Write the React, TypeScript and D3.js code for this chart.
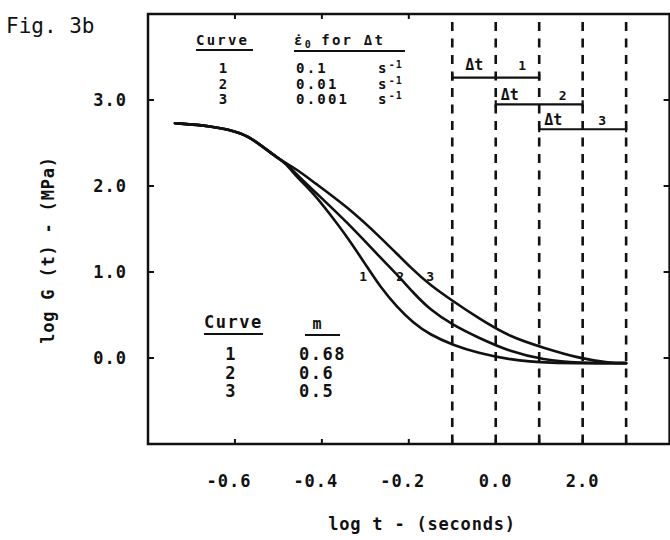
import React, { useEffect, useRef } from 'react';
import * as d3 from 'd3';

// Relaxation modulus curves (log t in s, log G in MPa)
const sharedT = [-0.738, -0.657, -0.581, -0.542, -0.503, -0.484];
const sharedG = [2.73, 2.7, 2.62, 2.48, 2.33, 2.27];

const curve1T = [-0.457, -0.42, -0.381, -0.342, -0.296, -0.266, -0.227, -0.19, -0.151, -0.098, -0.042, 0.034, 0.11, 0.3];
const curve1G = [2.1, 1.92, 1.67, 1.41, 1.06, 0.83, 0.59, 0.41, 0.27, 0.15, 0.06, -0.02, -0.06, -0.06];

const curve2T = [-0.457, -0.42, -0.342, -0.266, -0.227, -0.19, -0.151, -0.098, -0.042, 0.034, 0.11, 0.188, 0.3];
const curve2G = [2.13, 1.95, 1.58, 1.17, 0.97, 0.76, 0.56, 0.38, 0.24, 0.07, -0.02, -0.06, -0.06];

const curve3T = [-0.457, -0.42, -0.342, -0.266, -0.19, -0.151, -0.098, -0.042, 0.034, 0.11, 0.188, 0.264, 0.3];
const curve3G = [2.19, 2.05, 1.76, 1.41, 1.02, 0.85, 0.66, 0.47, 0.24, 0.12, 0.0, -0.06, -0.06];

const curveIds = ['1', '2', '3'];
const curveLabelT = [-0.305, -0.22, -0.151];
const curveLabelG = [0.9, 0.9, 0.9];

const strainRates = ['0.1', '0.01', '0.001'];
const mValues = ['0.68', '0.6', '0.5'];

// Δt windows
const windowStart = [-0.1, 0, 0.1];
const windowEnd = [0.1, 0.2, 0.3];
const windowLevel = [3.26, 2.95, 2.66];

const dashedT = [-0.1, 0, 0.1, 0.2, 0.3];
const xTicks = [-0.6, -0.4, -0.2, -0.1, 0, 0.1, 0.2, 0.3];
const xTickLabels = ['-0.6', '-0.4', '-0.2', '', '0.0', '', '2.0', ''];
const xTopTicks = [-0.6, -0.4, -0.2];
const yTicks = [0, 1, 2, 3];
const yTickLabels = ['0.0', '1.0', '2.0', '3.0'];

const MONO = "'DejaVu Sans Mono', 'Liberation Mono', monospace";

const zip = (t: number[], g: number[]) => t.map((v, i) => [v, g[i]] as [number, number]);

const App: React.FC = () => {
  const svgRef = useRef<SVGSVGElement>(null);
  const width = 670;
  const height = 540;

  useEffect(() => {
    if (!svgRef.current) return;
    const svg = d3.select(svgRef.current);
    svg.selectAll('*').remove();

    const x = d3.scaleLinear().domain([-0.8, 0.4]).range([148, 669.6]);
    const y = d3.scaleLinear().domain([-1, 4]).range([444, 14]);
    const [x0, x1] = x.range();
    const [y0, y1] = y.range();

    const ink = '#111';

    // Frame
    svg.append('rect')
      .attr('x', x0).attr('y', y1)
      .attr('width', x1 - x0).attr('height', y0 - y1)
      .attr('fill', 'none').attr('stroke', ink).attr('stroke-width', 2.5);

    // Dashed reference lines
    svg.append('g')
      .selectAll('line')
      .data(dashedT)
      .join('line')
      .attr('x1', d => x(d)).attr('x2', d => x(d))
      .attr('y1', y1 + 8).attr('y2', y0)
      .attr('stroke', ink).attr('stroke-width', 2.6)
      .attr('stroke-dasharray', '9 7.5');

    // Ticks (all inward)
    const ticks = svg.append('g').attr('stroke', ink).attr('stroke-width', 2);
    ticks.selectAll('line.b').data(xTicks).join('line').attr('class', 'b')
      .attr('x1', d => x(d)).attr('x2', d => x(d)).attr('y1', y0).attr('y2', y0 - 5);
    ticks.selectAll('line.t').data(xTopTicks).join('line').attr('class', 't')
      .attr('x1', d => x(d)).attr('x2', d => x(d)).attr('y1', y1).attr('y2', y1 + 5);
    ticks.selectAll('line.l').data(yTicks).join('line').attr('class', 'l')
      .attr('x1', x0).attr('x2', x0 + 6).attr('y1', d => y(d)).attr('y2', d => y(d));
    ticks.selectAll('line.r').data(yTicks).join('line').attr('class', 'r')
      .attr('x1', x1).attr('x2', x1 - 6).attr('y1', d => y(d)).attr('y2', d => y(d));

    // Tick labels
    svg.append('g')
      .selectAll('text')
      .data(xTicks.map((t, i) => ({ t, label: xTickLabels[i] })).filter(d => d.label))
      .join('text')
      .attr('x', d => x(d.t) + (d.label.startsWith('-') ? -6 : 0))
      .attr('y', 487)
      .attr('text-anchor', 'middle')
      .attr('font-family', MONO).attr('font-weight', 'bold')
      .attr('font-size', 17).attr('letter-spacing', 1)
      .attr('fill', ink)
      .text(d => d.label);

    svg.append('g')
      .selectAll('text')
      .data(yTicks.map((v, i) => ({ v, label: yTickLabels[i] })))
      .join('text')
      .attr('x', 127)
      .attr('y', d => y(d.v))
      .attr('dy', '0.36em')
      .attr('text-anchor', 'end')
      .attr('font-family', MONO).attr('font-weight', 'bold')
      .attr('font-size', 17).attr('letter-spacing', 1)
      .attr('fill', ink)
      .text(d => d.label);

    // Axis titles
    svg.append('text')
      .attr('x', 422).attr('y', 530)
      .attr('text-anchor', 'middle')
      .attr('font-family', MONO).attr('font-size', 17).attr('letter-spacing', 0.8)
      .attr('font-weight', 'bold')
      .attr('fill', ink)
      .text('log t - (seconds)');

    svg.append('text')
      .attr('transform', 'translate(54,250) rotate(-90)')
      .attr('text-anchor', 'middle')
      .attr('font-family', MONO).attr('font-size', 17).attr('letter-spacing', 0.8)
      .attr('font-weight', 'bold')
      .attr('fill', ink)
      .text('log G (t) - (MPa)');

    svg.append('text')
      .attr('x', 6).attr('y', 33)
      .attr('font-family', MONO).attr('font-size', 21)
      .attr('fill', ink)
      .text('Fig. 3b');

    // Curves
    const line = d3.line<[number, number]>()
      .x(d => x(d[0]))
      .y(d => y(d[1]))
      .curve(d3.curveBasis);

    const shared = zip(sharedT, sharedG);
    const series = [
      shared.concat(zip(curve1T, curve1G)),
      shared.concat(zip(curve2T, curve2G)),
      shared.concat(zip(curve3T, curve3G)),
    ];

    svg.append('g')
      .selectAll('path')
      .data(series)
      .join('path')
      .attr('d', line)
      .attr('fill', 'none')
      .attr('stroke', ink)
      .attr('stroke-width', 2.6)
      .attr('stroke-linecap', 'round');

    svg.append('g')
      .selectAll('text')
      .data(curveIds)
      .join('text')
      .attr('x', (d, i) => x(curveLabelT[i]))
      .attr('y', (d, i) => y(curveLabelG[i]))
      .attr('text-anchor', 'middle')
      .attr('font-family', MONO).attr('font-weight', 'bold').attr('font-size', 13)
      .attr('fill', ink)
      .text(d => d);

    // Δt windows
    const win = svg.append('g')
      .selectAll('g')
      .data(curveIds)
      .join('g');

    win.append('line')
      .attr('x1', (d, i) => x(windowStart[i])).attr('x2', (d, i) => x(windowEnd[i]))
      .attr('y1', (d, i) => y(windowLevel[i])).attr('y2', (d, i) => y(windowLevel[i]))
      .attr('stroke', ink).attr('stroke-width', 2.2);
    [windowStart, windowEnd].forEach(edge => {
      win.append('line')
        .attr('x1', (d, i) => x(edge[i])).attr('x2', (d, i) => x(edge[i]))
        .attr('y1', (d, i) => y(windowLevel[i]) - 4).attr('y2', (d, i) => y(windowLevel[i]) + 3)
        .attr('stroke', ink).attr('stroke-width', 2.2);
    });
    win.append('text')
      .attr('x', (d, i) => x(windowStart[i]) + (i === 0 ? 13 : 5))
      .attr('y', (d, i) => y(windowLevel[i]) - (i === 0 ? 8 : 4))
      .attr('font-family', MONO).attr('font-weight', 'bold').attr('font-size', 15)
      .attr('fill', ink)
      .text('Δt');
    win.append('text')
      .attr('x', (d, i) => x(windowStart[i]) + [70, 67, 63][i])
      .attr('y', (d, i) => y(windowLevel[i]) - (i === 0 ? 8 : 4))
      .attr('text-anchor', 'middle')
      .attr('font-family', MONO).attr('font-weight', 'bold').attr('font-size', 13)
      .attr('fill', ink)
      .text(d => d);

    // Upper legend: strain rate
    const legTop = svg.append('g')
      .attr('font-family', MONO).attr('font-weight', 'bold')
      .attr('font-size', 14).attr('letter-spacing', 2.2).attr('fill', ink);
    legTop.append('text').attr('x', 196).attr('y', 45).text('Curve');
    const hdr = legTop.append('text').attr('x', 294).attr('y', 45);
    hdr.append('tspan').text('ε\u0307');
    hdr.append('tspan').attr('dy', 3).attr('font-size', 10).attr('letter-spacing', 0).text('0');
    hdr.append('tspan').attr('dy', -3).text(' for Δt');
    legTop.append('line').attr('x1', 196).attr('x2', 253).attr('y1', 50).attr('y2', 50)
      .attr('stroke', ink).attr('stroke-width', 2.2);
    legTop.append('line').attr('x1', 294).attr('x2', 405).attr('y1', 51).attr('y2', 51)
      .attr('stroke', ink).attr('stroke-width', 2.2);
    const topRows = [73, 88.5, 104];
    legTop.selectAll('text.id').data(curveIds).join('text').attr('class', 'id')
      .attr('x', 224).attr('y', (d, i) => topRows[i]).attr('text-anchor', 'middle').text(d => d);
    legTop.selectAll('text.rate').data(strainRates).join('text').attr('class', 'rate')
      .attr('x', 296).attr('y', (d, i) => topRows[i]).text(d => d);
    const unit = legTop.selectAll('text.unit').data(strainRates).join('text').attr('class', 'unit')
      .attr('x', 378).attr('y', (d, i) => topRows[i]);
    unit.append('tspan').text('s');
    unit.append('tspan').attr('dy', -5).attr('font-size', 10).attr('letter-spacing', 1).text('-1');

    // Lower legend: exponent m
    const legBot = svg.append('g')
      .attr('font-family', MONO).attr('font-weight', 'bold')
      .attr('font-size', 17).attr('letter-spacing', 1.5).attr('fill', ink);
    legBot.append('text').attr('x', 204).attr('y', 328).text('Curve');
    legBot.append('text').attr('x', 317).attr('y', 329).attr('text-anchor', 'middle')
      .attr('font-size', 15).attr('letter-spacing', 0).text('m');
    legBot.append('line').attr('x1', 204).attr('x2', 263).attr('y1', 334).attr('y2', 334)
      .attr('stroke', ink).attr('stroke-width', 2.2);
    legBot.append('line').attr('x1', 305).attr('x2', 340).attr('y1', 335).attr('y2', 335)
      .attr('stroke', ink).attr('stroke-width', 2.2);
    const botRows = [360, 378.5, 397];
    legBot.selectAll('text.id').data(curveIds).join('text').attr('class', 'id')
      .attr('x', 231).attr('y', (d, i) => botRows[i]).attr('text-anchor', 'middle').text(d => d);
    legBot.selectAll('text.m').data(mValues).join('text').attr('class', 'm')
      .attr('x', 299).attr('y', (d, i) => botRows[i]).text(d => d);
  }, []);

  return (
    <svg
      ref={svgRef}
      width={width}
      height={height}
      style={{ position: 'absolute', left: 0, top: 0, background: '#fff' }}
    />
  );
};

export default App;
